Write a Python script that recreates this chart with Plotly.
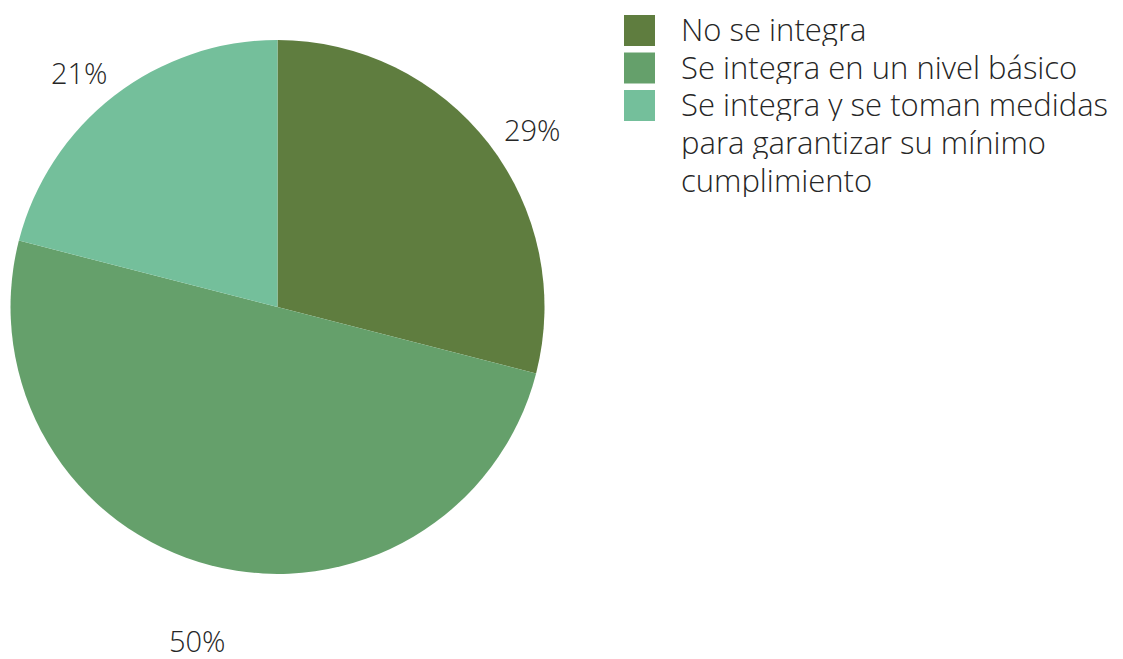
import numpy as np
import plotly.graph_objects as go

# datos del gráfico
categorias = ["No se integra",
              "Se integra en un nivel básico",
              "Se integra y se toman medidas para garantizar su mínimo cumplimiento"]
lineas_leyenda = [["No se integra"],
                  ["Se integra en un nivel básico"],
                  ["Se integra y se toman medidas", "para garantizar su mínimo", "cumplimiento"]]
valores = [29, 50, 21]
colores = ["#5f7d3f", "#65a06b", "#74bf9b"]

W, H = 1123, 659
OFF = 8  # margen del body en la página
fuente = dict(family="Open Sans", size=29, color="#262626", weight=300)
fuente_ley = dict(family="Open Sans", size=31, color="#262626", weight=300)

# centro y radio de la tarta en pixeles (coordenadas de pantalla)
cx, cy, R = 277.5, 307, 267


def px_x(x):
    return (x - OFF) / W


def px_y(y):
    return 1 - (y - OFF) / H


fig = go.Figure()
fig.add_trace(go.Pie(
    labels=categorias, values=valores, sort=False, direction="clockwise",
    rotation=0, textinfo="none", hoverinfo="label+percent",
    marker=dict(colors=colores, line=dict(width=0)),
    domain=dict(x=[px_x(cx - R), px_x(cx + R)], y=[px_y(cy + R), px_y(cy - R)]),
    showlegend=False,
))

# etiquetas de porcentaje fuera de la tarta
total = sum(valores)
acum = 0
anots = []
for v in valores:
    medio = (acum + v / 2) / total * 2 * np.pi
    acum += v
    d = R * 1.21
    anots.append(dict(
        x=px_x(cx + d * np.sin(medio)), y=px_y(cy - d * np.cos(medio)),
        xref="paper", yref="paper", text=f"{round(v / total * 100)}%",
        showarrow=False, font=fuente, xanchor="center", yanchor="top", borderpad=0))

# leyenda dibujada a mano (cuadros grandes)
shapes = []
paso = 37.5
fila = 0
for lineas, col in zip(lineas_leyenda, colores):
    yc = 30.5 + fila * paso
    shapes.append(dict(type="rect", xref="paper", yref="paper",
                       x0=px_x(624), x1=px_x(655), y0=px_y(yc + 15.5), y1=px_y(yc - 15.5),
                       fillcolor=col, line=dict(width=0)))
    for lin in lineas:
        yc = 29.5 + fila * paso
        anots.append(dict(x=px_x(680), y=px_y(yc), xref="paper", yref="paper",
                          text=lin, showarrow=False, align="left", height=34, borderpad=0,
                          xanchor="left", yanchor="middle", font=fuente_ley))
        fila += 1

fig.update_layout(
    width=W, height=H,
    margin=dict(l=0, r=0, t=0, b=0),
    paper_bgcolor="white", plot_bgcolor="white",
    annotations=anots, shapes=shapes,
)

fig.write_html("out.html")
